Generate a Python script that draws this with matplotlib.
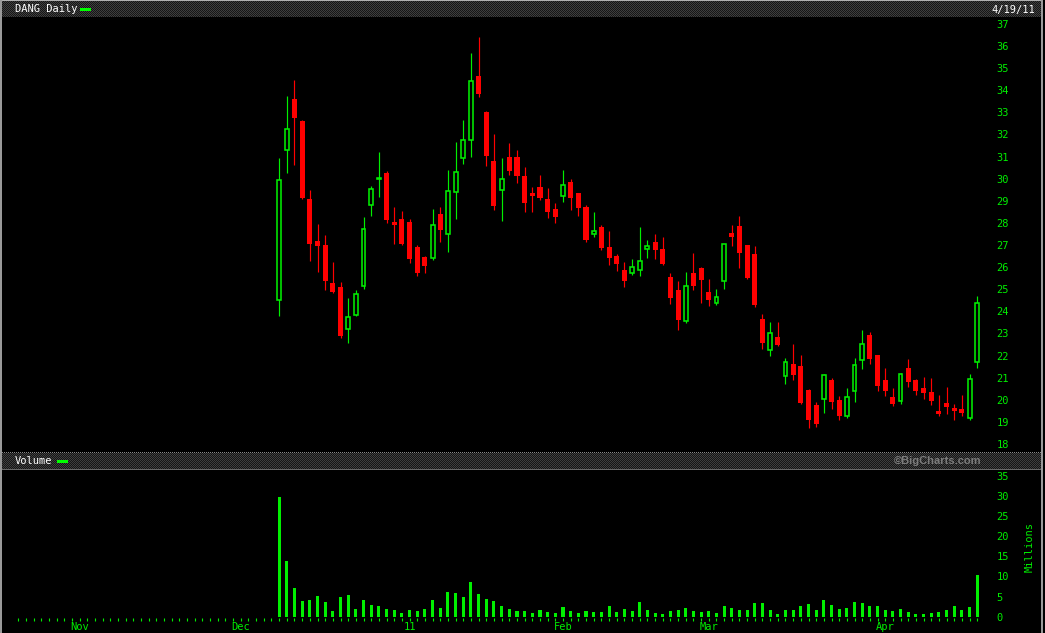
import numpy as np
import pandas as pd
import matplotlib
matplotlib.use("Agg")
import matplotlib.pyplot as plt
from matplotlib.patches import Rectangle

# trading calendar shown on the x axis (daily ticks)
holidays = ["2010-11-25", "2010-12-24", "2011-01-17", "2011-02-21"]
dates = pd.bdate_range("2010-10-20", "2011-04-19", freq="C", holidays=holidays)
first_trade = "2010-12-08"

# DANG daily prices, one entry per trading day from the IPO on
opens = [24.50, 31.31, 33.61, 32.61, 29.08, 27.18, 27.00, 25.28, 25.10, 23.19,
         23.85, 25.16, 28.82, 29.98, 30.26, 28.04, 28.18, 28.04, 26.91, 26.46,
         26.43, 28.40, 27.48, 29.38, 30.95, 31.77, 34.65, 33.02, 30.80, 29.50,
         30.98, 30.98, 30.12, 29.37, 29.62, 29.08, 28.63, 29.23, 29.85, 29.35,
         28.72, 27.51, 27.81, 26.91, 26.50, 25.87, 25.75, 25.88, 26.83, 27.14,
         26.82, 25.55, 24.96, 23.57, 25.73, 25.96, 24.87, 24.36, 25.36, 27.54,
         27.86, 27.00, 26.59, 23.65, 22.26, 22.84, 21.09, 21.62, 21.52, 20.44,
         19.76, 20.05, 20.89, 19.99, 19.28, 20.41, 21.78, 22.93, 22.02, 20.89,
         20.12, 19.95, 21.43, 20.89, 20.53, 20.35, 19.49, 19.85, 19.62, 19.58,
         19.19, 21.69]
highs = [30.94, 33.74, 34.47, 32.66, 29.49, 27.95, 27.45, 26.23, 25.33, 24.60,
         24.96, 28.27, 29.66, 31.19, 30.35, 28.72, 28.54, 28.18, 27.00, 26.50,
         28.63, 28.72, 30.39, 31.66, 32.66, 35.69, 36.41, 33.06, 32.02, 30.94,
         31.62, 31.30, 30.53, 29.62, 30.17, 29.58, 28.90, 30.39, 29.99, 29.37,
         28.81, 28.49, 27.90, 27.63, 26.59, 26.23, 26.37, 27.81, 27.23, 27.50,
         27.36, 25.73, 25.37, 25.78, 26.64, 26.00, 25.46, 25.01, 27.05, 27.90,
         28.31, 27.02, 26.95, 23.88, 23.52, 23.52, 21.89, 22.52, 22.02, 20.47,
         19.90, 21.16, 20.98, 20.17, 20.53, 21.89, 23.15, 23.06, 22.04, 21.43,
         20.53, 21.21, 21.84, 20.92, 21.03, 20.98, 20.21, 20.57, 19.81, 20.21,
         21.16, 24.69]
lows = [23.80, 30.27, 30.63, 29.08, 26.28, 25.79, 24.96, 24.84, 22.81, 22.58,
        23.80, 25.01, 28.33, 29.19, 28.00, 27.06, 27.02, 26.20, 25.61, 25.75,
        26.34, 27.15, 26.70, 28.19, 30.67, 31.00, 33.71, 30.59, 28.60, 28.10,
        30.17, 29.82, 28.51, 28.51, 29.05, 28.24, 28.01, 28.96, 28.60, 28.33,
        27.14, 27.36, 26.79, 26.11, 25.84, 25.10, 25.64, 25.61, 26.43, 26.38,
        26.10, 24.34, 23.17, 23.48, 24.96, 24.38, 24.25, 24.30, 25.02, 26.95,
        25.96, 25.46, 24.19, 22.29, 21.99, 22.45, 20.72, 20.89, 19.82, 18.73,
        18.78, 19.41, 19.59, 19.10, 19.19, 19.91, 21.40, 21.63, 20.41, 20.18,
        19.73, 19.82, 20.57, 20.23, 20.03, 19.76, 19.28, 19.37, 19.10, 19.28,
        19.10, 21.45]
closes = [29.93, 32.25, 32.76, 29.14, 27.06, 26.97, 25.38, 24.89, 22.90, 23.73,
          24.77, 27.71, 29.52, 30.05, 28.14, 27.90, 27.06, 26.37, 25.75, 26.06,
          27.89, 27.69, 29.43, 30.29, 31.74, 34.41, 33.85, 31.04, 28.78, 29.97,
          30.35, 30.14, 28.91, 29.23, 29.11, 28.51, 28.28, 29.70, 29.14, 28.69,
          27.23, 27.63, 26.86, 26.43, 26.15, 25.37, 25.99, 26.28, 26.94, 26.79,
          26.15, 24.62, 23.62, 25.14, 25.16, 25.43, 24.53, 24.63, 27.03, 27.36,
          26.64, 25.51, 24.30, 22.58, 23.00, 22.48, 21.71, 21.13, 19.86, 19.08,
          18.91, 21.10, 19.90, 19.28, 20.11, 21.56, 22.51, 21.86, 20.63, 20.41,
          19.82, 21.15, 20.80, 20.41, 20.30, 19.94, 19.35, 19.67, 19.49, 19.40,
          20.92, 24.36]
volume = [29.6, 13.8, 7.1, 3.9, 4.1, 5.1, 3.6, 1.4, 4.9, 5.4,
          1.9, 4.1, 2.9, 2.6, 1.9, 1.6, 0.9, 1.6, 1.4, 1.9,
          4.1, 2.1, 6.1, 5.9, 4.9, 8.6, 5.6, 4.4, 3.9, 2.6,
          1.9, 1.4, 1.4, 0.9, 1.6, 1.2, 0.9, 2.4, 1.4, 0.9,
          1.4, 1.2, 1.2, 2.6, 1.2, 1.9, 1.4, 3.6, 1.6, 0.9,
          0.7, 1.4, 1.6, 2.1, 1.4, 1.2, 1.4, 0.9, 2.6, 2.1,
          1.6, 1.6, 3.4, 3.4, 1.6, 0.7, 1.6, 1.6, 2.6, 3.1,
          1.6, 4.1, 2.9, 1.9, 2.1, 3.6, 3.4, 2.6, 2.6, 1.6,
          1.4, 1.9, 1.2, 0.7, 0.7, 0.9, 1.2, 1.6, 2.6, 1.6,
          2.4, 10.3]  # millions
price_ticks = list(range(18, 38))
volume_ticks = list(range(0, 36, 5))

W, H = 1045, 633
GREEN = "#00ee00"
BAR_GREEN = "#00f000"
RED = "#ff0000"
GREY = "#9a9a9a"

plt.rcParams["font.family"] = ["DejaVu Sans Mono"]


def box(left, top, right, bottom):
    # pixel box (from top-left) -> figure fraction rect
    return [left / W, 1 - bottom / H, (right - left) / W, (bottom - top) / H]


def checker(h, w, c1, c2):
    a = np.indices((h, w)).sum(axis=0) % 2
    c1 = np.array(matplotlib.colors.to_rgb(c1))
    c2 = np.array(matplotlib.colors.to_rgb(c2))
    return np.where(a[..., None] == 0, c1, c2)


def solid(h, w, c):
    return np.ones((h, w, 3)) * np.array(matplotlib.colors.to_rgb(c))


fig = plt.figure(figsize=(W / 100, H / 100), dpi=100, facecolor="black")

pos = np.arange(len(dates))
start = dates.get_loc(pd.Timestamp(first_trade))
x = pos[start:start + len(opens)]

new_month = np.r_[False, dates.month[1:] != dates.month[:-1]]
month_pos = pos[new_month]
month_lab = [d.strftime("%y") if d.month == 1 else d.strftime("%b") for d in dates[new_month]]

x_scale = 959 / (len(dates) - 1)
xlim = (-(18.3 - 3) / x_scale, len(dates) - 1 + (988 - 977.3) / x_scale)

# ---- price panel
ax = fig.add_axes(box(3, 17, 988, 452), facecolor="black")
ax.set_xlim(*xlim)
ax.set_ylim(37 - (452 - 24) / 22.1, 37 + (24 - 17) / 22.1)
for xi, o, h, l, c in zip(x, opens, highs, lows, closes):
    up = c >= o
    col = GREEN if up else RED
    ax.vlines(xi, l, h, color=col, lw=0.85, zorder=2)
    if up:
        ax.add_patch(Rectangle((xi - 0.25, o), 0.5, max(c - o, 0.04),
                               facecolor="black", edgecolor=col, lw=1.15, zorder=3))
    else:
        ax.add_patch(Rectangle((xi - 0.33, c), 0.66, max(o - c, 0.12),
                               facecolor=col, edgecolor="none", lw=0, zorder=3))
ax.set_xticks([])
ax.yaxis.tick_right()
ax.set_yticks(price_ticks)
ax.tick_params(axis="y", length=0, pad=6, labelcolor=GREEN, labelsize=7.5)
for s in ax.spines.values():
    s.set_visible(False)

# ---- volume panel
vax = fig.add_axes(box(3, 470, 988, 618), facecolor="black")
vax.set_xlim(*xlim)
vax.set_ylim(-(618 - 616.7) / 4.03, (616.7 - 470) / 4.03)
vax.bar(x, volume, width=0.4, color=BAR_GREEN, linewidth=0)
vax.set_xticks(pos, minor=True)
vax.set_xticks(month_pos, month_lab)
vax.tick_params(axis="x", which="both", direction="out", length=2.0, width=0.8,
                color=GREEN, labelcolor=GREEN, labelsize=7.5, pad=1.0)
vax.yaxis.tick_right()
vax.set_yticks(volume_ticks)
vax.tick_params(axis="y", length=0, pad=6, labelcolor=GREEN, labelsize=7.5)
for s in vax.spines.values():
    s.set_visible(False)

# ---- header bars and frame
fig.figimage(checker(16, 1040, "#3e3e3e", "#161616"), xo=2, yo=H - 17, zorder=1)
fig.figimage(solid(1, 1043, "#b0b0b0"), xo=0, yo=H - 1, zorder=2)
fig.figimage(checker(17, 1040, "#3e3e3e", "#161616"), xo=2, yo=H - 469, zorder=1)
fig.figimage(checker(1, 1040, "#8a8a8a", "#000000"), xo=2, yo=H - 453, zorder=2)
fig.figimage(solid(1, 1040, "#6a6a6a"), xo=2, yo=H - 470, zorder=2)
fig.figimage(solid(H, 2, GREY), xo=0, yo=0, zorder=2)
fig.figimage(solid(H, 2, GREY), xo=1041, yo=0, zorder=2)
fig.figimage(solid(3, 11, "#00ff00"), xo=80, yo=H - 11, zorder=3)
fig.figimage(solid(3, 11, "#00ff00"), xo=57, yo=H - 463, zorder=3)

fig.text(15 / W, 1 - 9.5 / H, "DANG Daily", color="white", fontsize=7.5,
         ha="left", va="center")
fig.text(1035 / W, 1 - 9.5 / H, "4/19/11", color="white", fontsize=7.5,
         ha="right", va="center")
fig.text(15 / W, 1 - 461.5 / H, "Volume", color="white", fontsize=7.5,
         ha="left", va="center")
fig.text(982 / W, 1 - 461 / H, "\u00a9BigCharts.com", color="#7c7c7c", fontsize=8,
         fontweight="bold", family=["Liberation Sans", "DejaVu Sans"],
         ha="right", va="center")
fig.text(1030 / W, 1 - 547 / H, "Millions", color=GREEN, fontsize=7.5,
         rotation=90, ha="center", va="center")

fig.savefig("out.png", dpi=100, facecolor="black")
